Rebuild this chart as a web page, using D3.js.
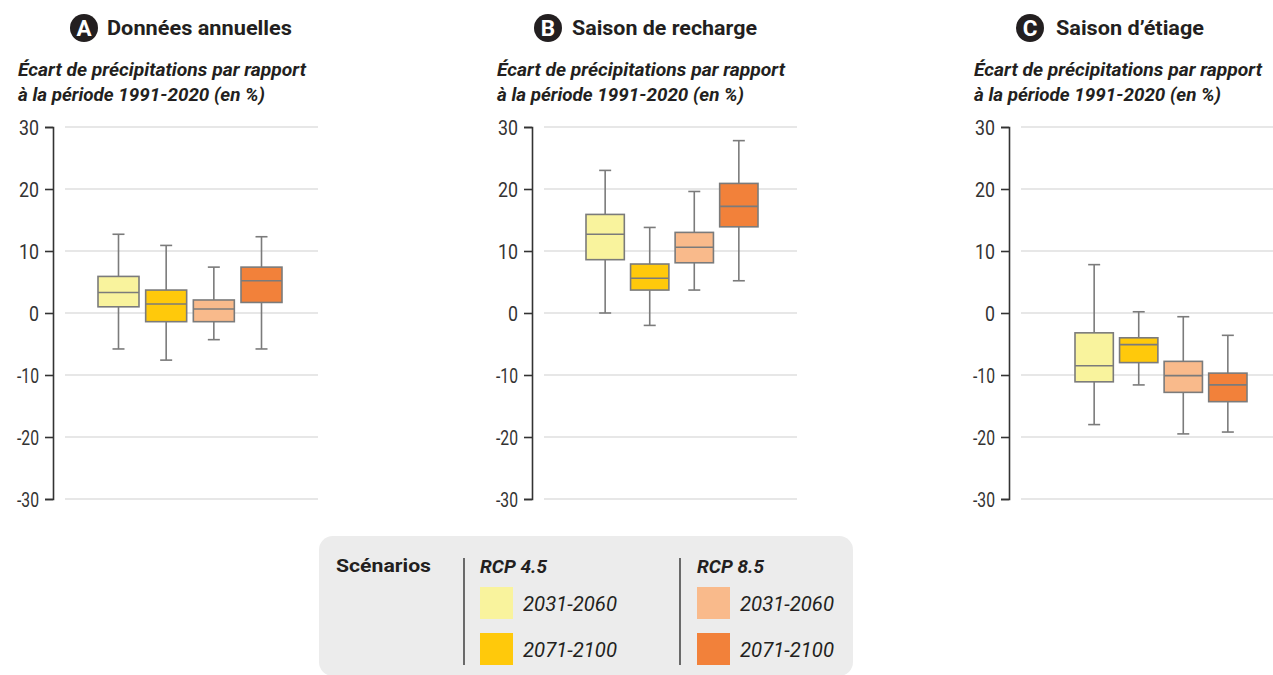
<!DOCTYPE html>
<html><head><meta charset="utf-8">
<script src="https://cdn.jsdelivr.net/npm/d3@7"></script>
<style>
html,body{margin:0;padding:0;background:#fff;}
svg{display:block;font-family:Roboto,"Noto Sans",sans-serif;}
</style></head>
<body><svg id="chart" width="1273" height="675"></svg>
<script>
// ---- data ----
const panelLetters = ["A", "B", "C"];
const panelTitles = ["Données annuelles", "Saison de recharge", "Saison d\u2019étiage"];
const subtitleLines = ["Écart de précipitations par rapport", "à la période 1991-2020 (en %)"];
const series = ["RCP 4.5 2031-2060", "RCP 4.5 2071-2100", "RCP 8.5 2031-2060", "RCP 8.5 2071-2100"];
const seriesColors = ["#f9f39d", "#ffc90b", "#f9ba8b", "#f2813a"];
const yTicks = [-30, -20, -10, 0, 10, 20, 30];

// Panel A - Données annuelles
const annuelMin = [-5.8, -7.6, -4.3, -5.8];
const annuelQ1 = [1.0, -1.4, -1.4, 1.7];
const annuelMed = [3.3, 1.45, 0.65, 5.2];
const annuelQ3 = [5.9, 3.7, 2.1, 7.4];
const annuelMax = [12.7, 10.9, 7.4, 12.3];
// Panel B - Saison de recharge
const rechargeMin = [0.0, -2.0, 3.7, 5.2];
const rechargeQ1 = [8.6, 3.7, 8.1, 13.9];
const rechargeMed = [12.7, 5.6, 10.6, 17.2];
const rechargeQ3 = [15.9, 7.9, 13.0, 20.9];
const rechargeMax = [23.0, 13.8, 19.6, 27.8];
// Panel C - Saison d'étiage
const etiageMin = [-18.0, -11.6, -19.5, -19.2];
const etiageQ1 = [-11.1, -8.0, -12.8, -14.3];
const etiageMed = [-8.5, -5.1, -10.1, -11.6];
const etiageQ3 = [-3.2, -4.0, -7.8, -9.7];
const etiageMax = [7.8, 0.2, -0.6, -3.6];

const legendTitle = "Scénarios";
const legendGroups = ["RCP 4.5", "RCP 8.5"];
const legendPeriods = ["2031-2060", "2071-2100"];

// ---- build ----
const panelStats = [
  [annuelMin, annuelQ1, annuelMed, annuelQ3, annuelMax],
  [rechargeMin, rechargeQ1, rechargeMed, rechargeQ3, rechargeMax],
  [etiageMin, etiageQ1, etiageMed, etiageQ3, etiageMax]
];

const layout = [
  {axisX: 53, gridEnd: 318, band: [98, 282], badgeX: 84, titleX: 107, titleW: 185},
  {axisX: 532, gridEnd: 797, band: [586, 758], badgeX: 548, titleX: 572, titleW: 185},
  {axisX: 1009, gridEnd: 1273, band: [1075, 1247], badgeX: 1030, titleX: 1056, titleW: 148}
];

const svg = d3.select("#chart");
const y = d3.scaleLinear().domain([-30, 30]).range([499, 127]);
const textCol = "#231f20";
const boxStroke = "#7b7b7b";

panelLetters.forEach((letter, pi) => {
  const L = layout[pi];
  const g = svg.append("g");

  // badge + title
  g.append("circle").attr("cx", L.badgeX).attr("cy", 28).attr("r", 14).attr("fill", textCol);
  g.append("text").attr("x", L.badgeX).attr("y", 36).attr("text-anchor", "middle")
    .attr("fill", "#fff").attr("font-weight", 700).attr("font-size", 22.5).text(letter);
  g.append("text").attr("x", L.titleX).attr("y", 35).attr("fill", textCol)
    .attr("font-weight", 700).attr("font-size", 20)
    .attr("textLength", L.titleW).attr("lengthAdjust", "spacingAndGlyphs")
    .text(panelTitles[pi]);

  // subtitle
  const subW = [288, 247];
  subtitleLines.forEach((line, li) => {
    g.append("text").attr("x", L.axisX - 35).attr("y", 76 + li * 25)
      .attr("fill", textCol).attr("font-weight", 700).attr("font-style", "italic")
      .attr("font-size", 19)
      .attr("textLength", subW[li]).attr("lengthAdjust", "spacingAndGlyphs")
      .text(line);
  });

  // gridlines
  g.selectAll(".grid").data(yTicks).join("line")
    .attr("x1", L.axisX + 12).attr("x2", L.gridEnd)
    .attr("y1", d => y(d)).attr("y2", d => y(d))
    .attr("stroke", "#cfcfcf").attr("stroke-width", 1.2);

  // axis
  const axis = d3.axisLeft(y).tickValues(yTicks).tickSize(8).tickPadding(6)
    .tickFormat(d => d3.format("d")(d).replace("\u2212", "-"));
  const ag = g.append("g").attr("transform", `translate(${L.axisX},0)`).call(axis);
  ag.select(".domain").attr("stroke", "#333").attr("stroke-width", 1.6);
  ag.selectAll(".tick line").attr("stroke", "#333").attr("stroke-width", 1.6);
  ag.selectAll(".tick text").attr("fill", "#333").attr("font-size", 20)
    .attr("font-family", "Roboto, sans-serif").attr("dy", "0.35em")
    .attr("textLength", d => d < 0 ? 22 : (d === 0 ? 10 : 20))
    .attr("lengthAdjust", "spacingAndGlyphs");
  ag.attr("font-family", null);

  // boxes
  const x = d3.scaleBand().domain(series).range(L.band).paddingInner(0.14).paddingOuter(0);
  const st = panelStats[pi];
  const data = series.map((s, i) => ({s, i, min: st[0][i], q1: st[1][i], med: st[2][i], q3: st[3][i], max: st[4][i]}));
  const bw = x.bandwidth();
  const cap = 12;

  const bg = g.selectAll(".box").data(data).join("g");
  bg.append("line")
    .attr("x1", d => x(d.s) + bw / 2).attr("x2", d => x(d.s) + bw / 2)
    .attr("y1", d => y(d.max)).attr("y2", d => y(d.q3))
    .attr("stroke", boxStroke).attr("stroke-width", 1.6);
  bg.append("line")
    .attr("x1", d => x(d.s) + bw / 2).attr("x2", d => x(d.s) + bw / 2)
    .attr("y1", d => y(d.q1)).attr("y2", d => y(d.min))
    .attr("stroke", boxStroke).attr("stroke-width", 1.6);
  bg.append("line")
    .attr("x1", d => x(d.s) + bw / 2 - cap / 2).attr("x2", d => x(d.s) + bw / 2 + cap / 2)
    .attr("y1", d => y(d.max)).attr("y2", d => y(d.max))
    .attr("stroke", boxStroke).attr("stroke-width", 1.6);
  bg.append("line")
    .attr("x1", d => x(d.s) + bw / 2 - cap / 2).attr("x2", d => x(d.s) + bw / 2 + cap / 2)
    .attr("y1", d => y(d.min)).attr("y2", d => y(d.min))
    .attr("stroke", boxStroke).attr("stroke-width", 1.6);
  bg.append("rect")
    .attr("x", d => x(d.s)).attr("width", bw)
    .attr("y", d => y(d.q3)).attr("height", d => y(d.q1) - y(d.q3))
    .attr("fill", d => seriesColors[d.i]).attr("stroke", boxStroke).attr("stroke-width", 1.6);
  bg.append("line")
    .attr("x1", d => x(d.s)).attr("x2", d => x(d.s) + bw)
    .attr("y1", d => y(d.med)).attr("y2", d => y(d.med))
    .attr("stroke", boxStroke).attr("stroke-width", 1.6);
});

// ---- legend ----
const lg = svg.append("g");
lg.append("rect").attr("x", 319).attr("y", 536).attr("width", 534).attr("height", 140)
  .attr("rx", 14).attr("fill", "#ececec");
lg.append("text").attr("x", 336).attr("y", 572).attr("fill", textCol)
  .attr("font-weight", 700).attr("font-size", 18.5)
  .attr("textLength", 95).attr("lengthAdjust", "spacingAndGlyphs").text(legendTitle);

const groupX = [480, 697];
const dividerX = [464, 680];
legendGroups.forEach((grp, gi) => {
  lg.append("line").attr("x1", dividerX[gi]).attr("x2", dividerX[gi])
    .attr("y1", 558).attr("y2", 665).attr("stroke", "#333").attr("stroke-width", 1.4);
  lg.append("text").attr("x", groupX[gi]).attr("y", 573).attr("fill", textCol)
    .attr("font-weight", 700).attr("font-style", "italic").attr("font-size", 18.5)
    .attr("textLength", 67).attr("lengthAdjust", "spacingAndGlyphs").text(grp);
  legendPeriods.forEach((p, pi) => {
    const idx = gi * 2 + pi;
    lg.append("rect").attr("x", groupX[gi]).attr("y", 587 + pi * 46)
      .attr("width", 33).attr("height", 32).attr("fill", seriesColors[idx]);
    lg.append("text").attr("x", groupX[gi] + 43).attr("y", 611 + pi * 46)
      .attr("fill", textCol).attr("font-style", "italic").attr("font-size", 19.5)
      .attr("textLength", 94).attr("lengthAdjust", "spacingAndGlyphs").text(p);
  });
});
</script></body></html>
